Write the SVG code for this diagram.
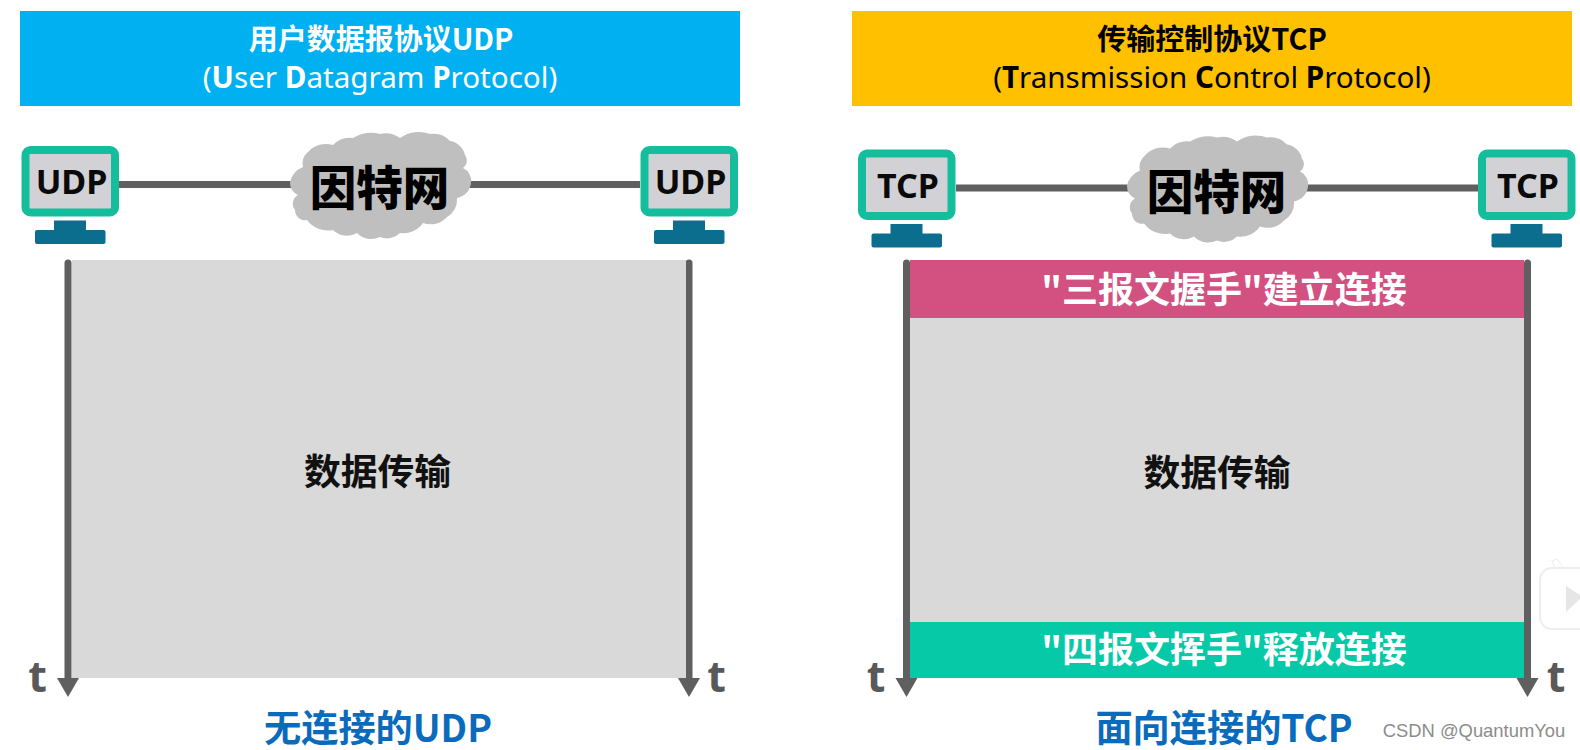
<svg xmlns="http://www.w3.org/2000/svg" width="1580" height="750" viewBox="0 0 1580 750">
<style>
text{font-family:"Noto Sans","Noto Sans CJK SC",sans-serif;text-anchor:middle}
.cjk{font-family:"Noto Sans CJK SC","Noto Sans",sans-serif}
.h1{font-size:29px;font-weight:700}
.h2{font-size:29.600px;font-weight:400}
.b{font-weight:700}
.mon{font-size:34px;font-weight:700;fill:#0a0a0a}
.net{font-size:46.500px;font-weight:900;fill:#000}
.data{font-size:36.800px;font-weight:700;fill:#111}
.band{font-size:36px;font-weight:700;fill:#fff}
.foot{font-size:37.200px;font-weight:700;fill:#0a6bbd}
.t{font-size:43px;font-weight:700;fill:#595959}
.link{stroke:#5f5f5f;stroke-width:7;fill:none}
.axis{stroke:#5f5f5f;stroke-width:7;fill:none;stroke-linecap:round}
.screen{fill:#d2d2d6;stroke:#14bd9c;stroke-width:8}
.stand{fill:#0b6e8f}
.area{fill:#d9d9d9}
</style>
<defs>
<path id="cloud" fill="#bfbfbf" d="M290 182A22 22 0 0 1 303 167A14 14 0 0 1 308 152A24 24 0 0 1 333 145A24 24 0 0 1 353 138A36 36 0 0 1 380 134A24 24 0 0 1 400 138A32 32 0 0 1 430 134A22 22 0 0 1 450 141A18 18 0 0 1 465 155A9 9 0 0 1 463 168A14 14 0 0 1 471 183A17 17 0 0 1 457 198A20 20 0 0 1 447 217A22 22 0 0 1 423 223A24 24 0 0 1 400 233A18 18 0 0 1 380 237A20 20 0 0 1 357 233A20 20 0 0 1 333 230A26 26 0 0 1 307 220A10 10 0 0 1 295 210A10 10 0 0 1 298 195A14 14 0 0 1 290 182Z"/>
<g id="pc">
<rect class="screen" x="25.500" y="150" width="89.500" height="62.500" rx="5"/>
<rect class="stand" x="54" y="220.500" width="32" height="12"/>
<rect class="stand" x="35" y="230" width="70.500" height="14" rx="2"/>
</g>
<path id="head" fill="#5f5f5f" d="M-11 0H11L0 19Z"/>
</defs>
<rect width="1580" height="750" fill="#fff"/>

<g id="connectors">
<path class="link" d="M119 184.500H640"/>
<path class="link" d="M956 188H1478"/>
<path class="axis" d="M68 263V680"/>
<path class="axis" d="M689 263V680"/>
<path class="axis" d="M906.500 263V680"/>
<path class="axis" d="M1527.500 263V680"/>
<use href="#head" x="68" y="678"/>
<use href="#head" x="689" y="678"/>
<use href="#head" x="906.500" y="678"/>
<use href="#head" x="1527.500" y="678"/>
</g>

<g id="udp-title">
<rect x="20" y="11" width="720" height="95" fill="#00b0f0"/>
<text class="h1 cjk" x="381" y="50" fill="#fff">用户数据报协议UDP</text>
<text class="h2" x="380" y="88" fill="#fff">(<tspan class="b">U</tspan>ser <tspan class="b">D</tspan>atagram <tspan class="b">P</tspan>rotocol)</text>
</g>
<g id="tcp-title">
<rect x="852" y="11" width="720" height="95" fill="#ffc000"/>
<text class="h1 cjk" x="1212" y="50" fill="#000">传输控制协议TCP</text>
<text class="h2" x="1212" y="88" fill="#000">(<tspan class="b">T</tspan>ransmission <tspan class="b">C</tspan>ontrol <tspan class="b">P</tspan>rotocol)</text>
</g>

<g id="udp-host-left"><use href="#pc"/><text class="mon" x="71.500" y="194">UDP</text></g>
<g id="udp-host-right"><use href="#pc" x="619"/><text class="mon" x="690.500" y="194">UDP</text></g>
<g id="udp-internet"><use href="#cloud"/><text class="net cjk" x="379.500" y="205">因特网</text></g>

<g id="tcp-host-left"><use href="#pc" x="836.500" y="3.500"/><text class="mon" x="908" y="198">TCP</text></g>
<g id="tcp-host-right"><use href="#pc" x="1456.500" y="3.500"/><text class="mon" x="1528" y="198">TCP</text></g>
<g id="tcp-internet"><use href="#cloud" x="837" y="3.500"/><text class="net cjk" x="1216.500" y="208.500">因特网</text></g>

<g id="udp-transfer">
<rect class="area" x="72" y="260" width="614" height="418"/>
<text class="data cjk" x="377.500" y="485">数据传输</text>
</g>
<g id="tcp-transfer">
<rect class="area" x="910" y="318" width="614" height="304"/>
<text class="data cjk" x="1217" y="486">数据传输</text>
</g>
<g id="tcp-open">
<rect x="910" y="260" width="614" height="58" fill="#d25180"/>
<text class="band cjk" x="1224" y="303">"三报文握手"建立连接</text>
</g>
<g id="tcp-close">
<rect x="910" y="622" width="614" height="56" fill="#06c9a8"/>
<text class="band cjk" x="1224" y="663">"四报文挥手"释放连接</text>
</g>

<g id="time-labels">
<text class="t" x="37.500" y="692">t</text>
<text class="t" x="716.500" y="692">t</text>
<text class="t" x="876" y="692">t</text>
<text class="t" x="1556" y="692">t</text>
</g>

<g id="captions">
<text class="foot cjk" x="378" y="742">无连接的UDP</text>
<text class="foot cjk" x="1224" y="742">面向连接的TCP</text>
</g>

<g id="badge">
<path d="M1556 570L1552 561L1557 559L1564 568Z" fill="#fff" stroke="#efefef"/>
<rect x="1540" y="568" width="60" height="61" rx="12" fill="#fff" stroke="#eeeeee" stroke-width="2"/>
<path d="M1566 586V612L1580 599V595Z" fill="#e6e6e6"/>
</g>
<text x="1474" y="737" font-size="18.400" fill="#8c8c8c" style="font-family:'Liberation Sans',sans-serif">CSDN @QuantumYou</text>
</svg>
